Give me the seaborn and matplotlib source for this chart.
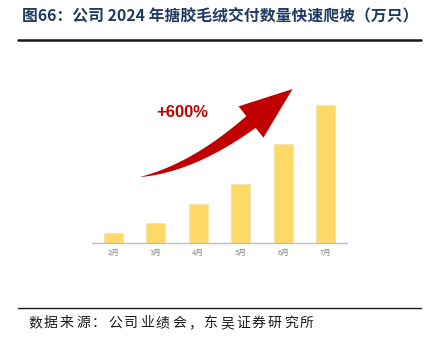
import numpy as np
import pandas as pd
import matplotlib
matplotlib.use("Agg")
import matplotlib.pyplot as plt
import seaborn as sns
from matplotlib.patches import Polygon

months = ["2月", "3月", "4月", "5月", "6月", "7月"]
values = [2.5, 5, 10, 15, 25, 35]
title = "图66：公司 2024 年搪胶毛绒交付数量快速爬坡（万只）"
source = "数据来源：公司业绩会，东吴证券研究所"
growth = "+600%"

sns.set_theme(style="white")
plt.rcParams['font.family'] = ['Noto Sans CJK SC', 'DejaVu Sans']

W, H = 438, 353
fig = plt.figure(figsize=(W / 100, H / 100), dpi=100)
ax = fig.add_axes([92 / W, 1 - 243 / H, 255 / W, 158 / H])

df = pd.DataFrame({"month": months, "value": values})
sns.barplot(data=df, x="month", y="value", color="#FFD966", width=0.45,
            saturation=1, edgecolor="#F2E3B0", linewidth=0.6, ax=ax)
ax.set_xlim(-0.5, 5.5)
ax.set_ylim(0, 40)
ax.set_xlabel("")
ax.set_ylabel("")
ax.set_yticks([])
for s in ["top", "right", "left"]:
    ax.spines[s].set_visible(False)
ax.spines["bottom"].set_color("#BFBFBF")
ax.spines["bottom"].set_linewidth(1.0)
ax.tick_params(axis="x", length=0, pad=4, labelsize=5.5, labelcolor="#7F7F7F")
ax.set_facecolor("none")

# curved growth arrow (pixel coordinates, y down)
def px(x, y):
    return (x / W, 1 - y / H)

p0 = np.array([140.0, 177.0])
p1 = np.array([193.0, 168.0])
p2 = np.array([251.0, 122.0])
t = np.linspace(0, 1, 60)
pts = ((1 - t)[:, None] ** 2) * p0 + (2 * (1 - t) * t)[:, None] * p1 + (t[:, None] ** 2) * p2
der = 2 * (1 - t)[:, None] * (p1 - p0) + 2 * t[:, None] * (p2 - p1)
nrm = np.stack([-der[:, 1], der[:, 0]], axis=1)
nrm /= np.linalg.norm(nrm, axis=1)[:, None]
wid = 7.5 * t ** 0.9
upper = pts + nrm * wid[:, None]
lower = pts - nrm * wid[:, None]
dirv = der[-1] / np.linalg.norm(der[-1])
nv = nrm[-1]
tip = p2 + dirv * 53
hA = p2 + nv * 20
hB = p2 - nv * 20
poly = list(upper) + [hA, tip, hB] + list(lower[::-1])
poly = [px(x, y) for x, y in poly]
fig.patches.append(Polygon(poly, closed=True, transform=fig.transFigure,
                           facecolor="#C00000", edgecolor="none"))

fig.text(182 / W, 1 - 112 / H, growth, ha="center", va="center", fontsize=12,
         fontweight="bold", color="#C00000", family=["Liberation Sans", "DejaVu Sans"])

# title & lines
fig.text(22 / W, 1 - 15 / H, title, ha="left", va="center", fontsize=11.4,
         fontweight="bold", color="#1F3A60")
fig.add_artist(plt.Line2D([18 / W, 421 / W], [1 - 40 / H, 1 - 40 / H],
                          transform=fig.transFigure, color="#1a1a1a", linewidth=1.8))
fig.add_artist(plt.Line2D([18 / W, 421 / W], [1 - 308 / H, 1 - 308 / H],
                          transform=fig.transFigure, color="#1a1a1a", linewidth=1.0))
# source line, letter-spaced
pitch = 16.0
for i, ch in enumerate(source):
    fig.text((28 + i * pitch) / W, 1 - 323 / H, ch, ha="left", va="center",
             fontsize=10, color="#1a1a1a")

fig.savefig("out.png", dpi=100)
